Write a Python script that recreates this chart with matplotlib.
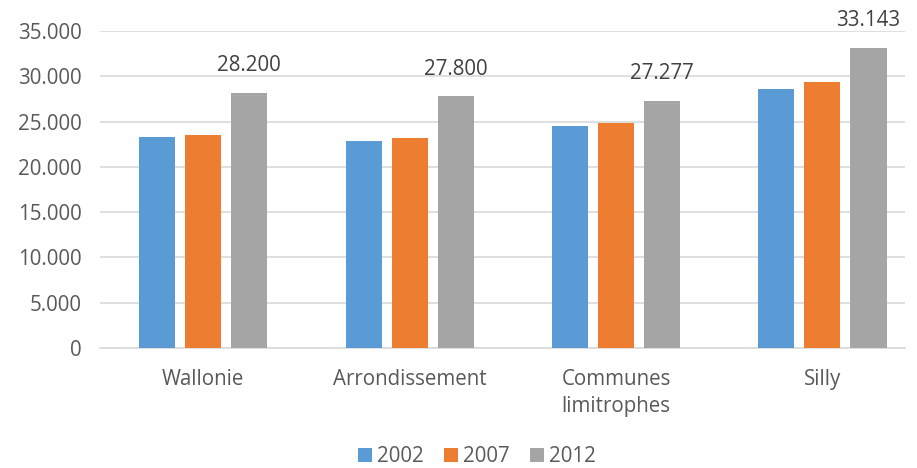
import matplotlib
matplotlib.use("Agg")
import matplotlib.pyplot as plt
import numpy as np

categories = ["Wallonie", "Arrondissement", "Communes\nlimitrophes", "Silly"]
years = ["2002", "2007", "2012"]
values_2002 = [23320, 22850, 24500, 28550]
values_2007 = [23480, 23180, 24800, 29360]
values_2012 = [28200, 27800, 27277, 33143]
colors = ["#5B9BD5", "#ED7D31", "#A5A5A5"]

plt.rcParams["font.family"] = ["Open Sans", "DejaVu Sans"]
text_color = "#595959"
fs = 14.8

fig = plt.figure(figsize=(9.17, 4.68), dpi=100)
ax = fig.add_axes([100 / 917, 1 - 348 / 468, 805 / 917, 317 / 468])

x = np.arange(len(categories))
width = 0.175
step = 0.223
series = [values_2002, values_2007, values_2012]
for i, (vals, year, col) in enumerate(zip(series, years, colors)):
    bars = ax.bar(x + (i - 1) * step, vals, width, color=col, label=year, zorder=3)
    if year == "2012":
        for b, v in zip(bars, vals):
            ax.annotate(f"{v:,}".replace(",", "."),
                        (b.get_x() + b.get_width() / 2, v),
                        xytext=(0, 19.5), textcoords="offset points",
                        ha="center", va="center", fontsize=fs, color="#404040")

ax.set_xlim(-0.5, 3.4)
ax.set_ylim(0, 35000)
ax.set_yticks(range(0, 35001, 5000))
ax.set_yticklabels([f"{t:,}".replace(",", ".") for t in range(0, 35001, 5000)])
ax.yaxis.grid(True, color="#D9D9D9", linewidth=1.2, zorder=0)
ax.set_xticks(x)
ax.set_xticklabels(categories, linespacing=1.4)
ax.tick_params(axis="both", length=0, labelsize=fs, colors=text_color)
ax.tick_params(axis="x", pad=15)
ax.tick_params(axis="y", pad=13)
for side in ["top", "right", "left"]:
    ax.spines[side].set_visible(False)
ax.spines["bottom"].set_color("#D9D9D9")
ax.spines["bottom"].set_linewidth(1.2)

fig.legend(loc="center", bbox_to_anchor=(477 / 917, 1 - 457 / 468), ncol=3, frameon=False,
           fontsize=fs, labelcolor=text_color, handlelength=0.67, handleheight=0.67,
           handletextpad=0.25, columnspacing=1.0, borderpad=0.2)

fig.savefig("out.png", dpi=100)
